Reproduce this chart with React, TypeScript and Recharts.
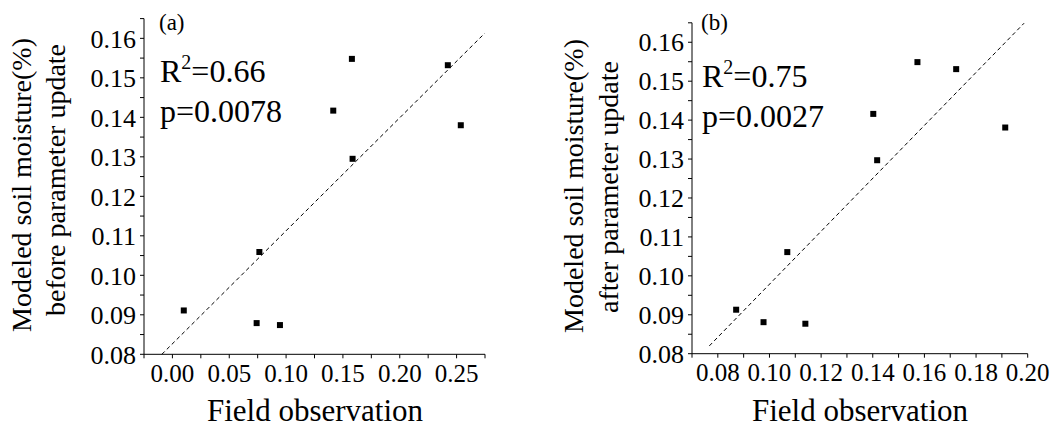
import React from "react";
import { ScatterChart, Scatter, XAxis, YAxis, ReferenceLine } from "recharts";

// Panel (a): before parameter update
const fieldA = [0.01, 0.0741, 0.0946, 0.0765, 0.1415, 0.1579, 0.1585, 0.2423, 0.2537];
const modelA = [0.0911, 0.0879, 0.0874, 0.1059, 0.1417, 0.1548, 0.1295, 0.1532, 0.138];
const fitA = [
  { x: -0.0093, y: 0.08 },
  { x: 0.2748, y: 0.1613 },
];

// Panel (b): after parameter update
const fieldB = [0.0871, 0.0977, 0.1139, 0.1069, 0.1402, 0.1573, 0.1417, 0.1723, 0.1913];
const modelB = [0.0913, 0.0881, 0.0877, 0.1061, 0.1416, 0.1549, 0.1297, 0.1531, 0.1381];
const fitB = [
  { x: 0.0767, y: 0.082 },
  { x: 0.1986, y: 0.1649 },
];

// Ticks and labels
const yTicks = [0.08, 0.085, 0.09, 0.095, 0.1, 0.105, 0.11, 0.115, 0.12, 0.125, 0.13, 0.135, 0.14, 0.145, 0.15, 0.155, 0.16, 0.165];
const yTickLabels = ["0.08", "", "0.09", "", "0.10", "", "0.11", "", "0.12", "", "0.13", "", "0.14", "", "0.15", "", "0.16", ""];
const xTicksA = [-0.025, 0, 0.025, 0.05, 0.075, 0.1, 0.125, 0.15, 0.175, 0.2, 0.225, 0.25, 0.275];
const xTickLabelsA = ["", "0.00", "", "0.05", "", "0.10", "", "0.15", "", "0.20", "", "0.25", ""];
const xTicksB = [0.07, 0.08, 0.09, 0.1, 0.11, 0.12, 0.13, 0.14, 0.15, 0.16, 0.17, 0.18, 0.19, 0.2];
const xTickLabelsB = ["", "0.08", "", "0.10", "", "0.12", "", "0.14", "", "0.16", "", "0.18", "", "0.20"];

const FONT = "Liberation Serif";

const toPoints = (xs: number[], ys: number[]) => xs.map((x, i) => ({ x, y: ys[i] }));
const labelFor = (ticks: number[], labels: string[]) => (v: number) => {
  const i = ticks.findIndex((t) => Math.abs(t - v) < 1e-9);
  return i >= 0 ? labels[i] : "";
};

const Square = (p: any) => (
  <rect x={p.cx - 3} y={p.cy - 3} width={6} height={6} fill="#000" />
);

type PanelProps = {
  data: { x: number; y: number }[];
  fit: { x: number; y: number }[];
  xDomain: [number, number];
  xTicks: number[];
  xLabels: string[];
  width: number;
  margin: { top: number; right: number; bottom: number; left: number };
};

const Panel = ({ data, fit, xDomain, xTicks, xLabels, width, margin }: PanelProps) => (
  <ScatterChart width={width} height={427} margin={margin} style={{ fontFamily: FONT }}>
    <XAxis
      type="number"
      dataKey="x"
      domain={xDomain}
      ticks={xTicks}
      interval={0}
      allowDataOverflow
      tickFormatter={labelFor(xTicks, xLabels)}
      height={40}
      tickSize={4}
      tickMargin={6}
      axisLine={{ stroke: "#000", strokeWidth: 1 }}
      tickLine={{ stroke: "#000", strokeWidth: 1 }}
      tick={{ fill: "#000", fontSize: 25, style: { fontFamily: FONT } }}
    />
    <YAxis
      type="number"
      dataKey="y"
      domain={[0.08, 0.165]}
      ticks={yTicks}
      interval={0}
      allowDataOverflow
      tickFormatter={labelFor(yTicks, yTickLabels)}
      width={60}
      tickSize={4}
      tickMargin={4}
      axisLine={{ stroke: "#000", strokeWidth: 1 }}
      tickLine={{ stroke: "#000", strokeWidth: 1 }}
      tick={{ fill: "#000", fontSize: 26, style: { fontFamily: FONT } }}
    />
    <ReferenceLine
      segment={fit}
      stroke="#000"
      strokeWidth={1}
      strokeDasharray="4 3"
      ifOverflow="visible"
    />
    <Scatter data={data} shape={Square} isAnimationActive={false} />
  </ScatterChart>
);

const T: React.CSSProperties = { fontFamily: FONT };

export default function App() {
  return (
    <div style={{ position: "absolute", left: 0, top: 0, width: 1051, height: 427, background: "#fff", fontFamily: FONT }}>
      <div style={{ position: "absolute", left: 0, top: 0 }}>
        <Panel
          data={toPoints(fieldA, modelA)}
          fit={fitA}
          xDomain={[-0.025, 0.275]}
          xTicks={xTicksA}
          xLabels={xTickLabelsA}
          width={520}
          margin={{ top: 18.6, right: 35, bottom: 32.7, left: 84 }}
        />
      </div>
      <div style={{ position: "absolute", left: 520, top: 0 }}>
        <Panel
          data={toPoints(fieldB, modelB)}
          fit={fitB}
          xDomain={[0.07, 0.2]}
          xTicks={xTicksB}
          xLabels={xTickLabelsB}
          width={531}
          margin={{ top: 22.8, right: 23.3, bottom: 33.3, left: 112 }}
        />
      </div>
      <svg
        width={1051}
        height={427}
        style={{ position: "absolute", left: 0, top: 0, pointerEvents: "none", fontFamily: FONT }}
        fill="#000"
      >
        {/* Panel (a) texts */}
        <text x={159} y={30} fontSize={23} style={T}>(a)</text>
        <text x={160} y={81.7} fontSize={32} style={T}>
          R<tspan fontSize={20} dy={-13}>2</tspan>
          <tspan dy={13}>=0.66</tspan>
        </text>
        <text x={160} y={121.7} fontSize={32} style={T}>p=0.0078</text>
        <text x={315} y={421} fontSize={31} textAnchor="middle" style={T}>Field observation</text>
        <text transform="translate(30.5,185) rotate(-90)" fontSize={28} textAnchor="middle" style={T}>
          Modeled soil moisture(%)
        </text>
        <text transform="translate(64.5,180) rotate(-90)" fontSize={28} textAnchor="middle" style={T}>
          before parameter update
        </text>

        {/* Panel (b) texts */}
        <text x={701} y={30} fontSize={23} style={T}>(b)</text>
        <text x={702} y={87.3} fontSize={32} style={T}>
          R<tspan fontSize={20} dy={-13}>2</tspan>
          <tspan dy={13}>=0.75</tspan>
        </text>
        <text x={702} y={126.7} fontSize={32} style={T}>p=0.0027</text>
        <text x={860} y={421} fontSize={31} textAnchor="middle" style={T}>Field observation</text>
        <text transform="translate(583,186) rotate(-90)" fontSize={28} textAnchor="middle" style={T}>
          Modeled soil moisture(%)
        </text>
        <text transform="translate(618,187) rotate(-90)" fontSize={28} textAnchor="middle" style={T}>
          after parameter update
        </text>
      </svg>
    </div>
  );
}
